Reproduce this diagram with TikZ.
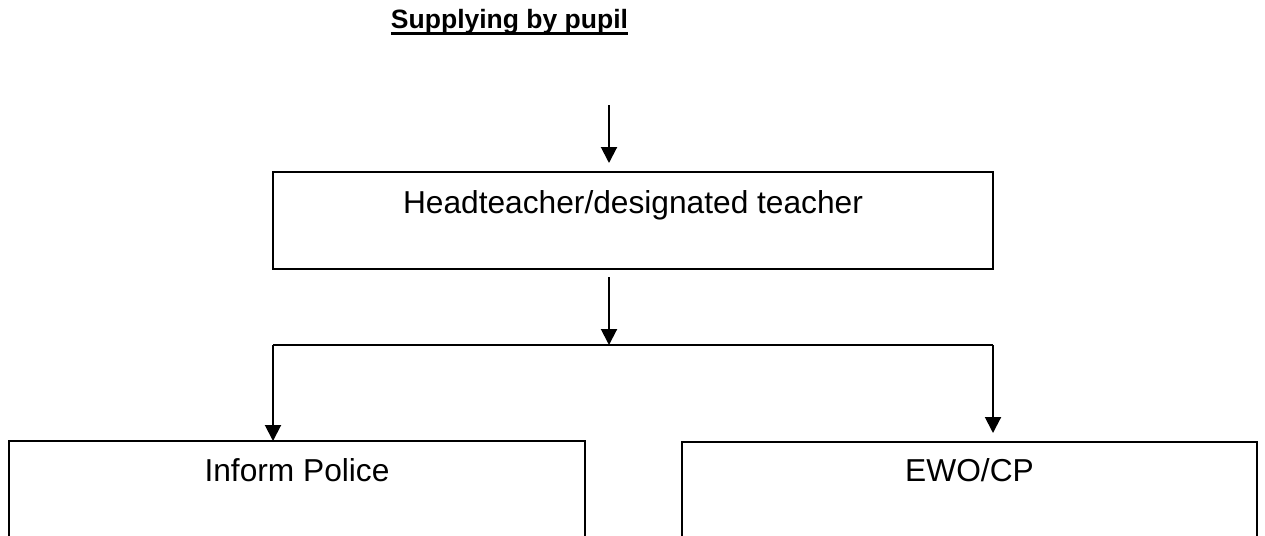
\documentclass[tikz,border=0pt]{standalone}
\usepackage{fontspec}
\setmainfont{Liberation Sans}
\usetikzlibrary{arrows.meta}
\tikzset{
  boxnode/.style={draw=black, line width=2pt, inner sep=0pt, outer sep=0pt},
  lbl/.style={anchor=base, inner sep=0pt, font=\fontsize{31.7}{38}\selectfont},
  titlelbl/.style={anchor=base, inner sep=0pt, font=\fontsize{26.5}{32}\selectfont\bfseries},
  conn/.style={line width=2pt},
  arr/.style={line width=2pt, -{Triangle[length=16pt,width=16pt]}}
}
\begin{document}
\begin{tikzpicture}[x=1pt, y=-1pt]
\clip (0,0) rectangle (1265,535);
\fill[white] (0,0) rectangle (1265,535);
% title
\node[titlelbl] (title) at (509.5,29) {Supplying by pupil};
\draw[line width=3pt] ([yshift=-4.5pt]title.base west) -- ([yshift=-4.5pt]title.base east);
% boxes
\node[boxnode, minimum width=720pt, minimum height=97pt] (head) at (633,220.5) {};
\node[lbl] (headtxt) at ([yshift=-41pt]head.north) {Headteacher/designated teacher};
\node[boxnode, minimum width=576pt, minimum height=160pt] (left) at (297,521) {};
\node[lbl] (lefttxt) at ([yshift=-40pt]left.north) {Inform Police};
\node[boxnode, minimum width=575pt, minimum height=160pt] (right) at (969.5,522) {};
\node[lbl] (righttxt) at ([yshift=-39pt]right.north) {EWO/CP};
% connectors
\coordinate (topstart) at (609,105);
\coordinate (junc) at (609,345);
\coordinate (hL) at (273,345);
\coordinate (hR) at (993,345);
\draw[arr, shorten >=9pt] (topstart) -- (topstart |- head.north);
\draw[arr, shorten <=8pt] (topstart |- head.south) -- (junc);
\draw[conn] (hL) -- (hR);
\draw[arr] (hL) -- (hL |- left.north);
\draw[arr, shorten >=9pt] (hR) -- (hR |- right.north);
\end{tikzpicture}
\end{document}
